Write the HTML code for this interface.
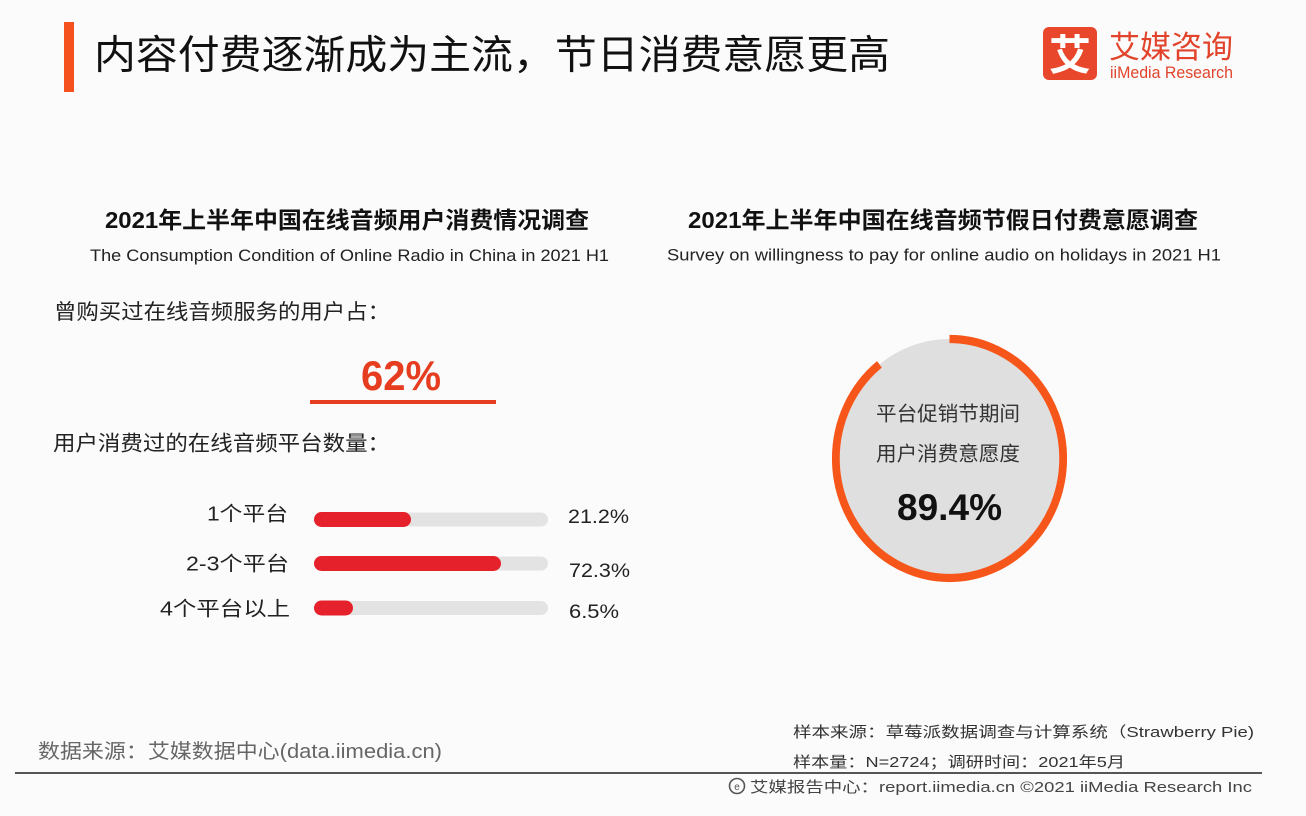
<!DOCTYPE html>
<html><head><meta charset="utf-8"><style>
html,body{margin:0;padding:0;background:#fbfbfb;}
svg{display:block;}
text{font-family:"Liberation Sans","Noto Sans CJK SC",sans-serif;}
.cjk{font-family:"Liberation Sans","Noto Sans CJK SC",sans-serif;}
</style></head><body>
<svg width="1306" height="816" viewBox="0 0 1306 816" xmlns="http://www.w3.org/2000/svg">
<rect x="0" y="0" width="1306" height="816" fill="#fbfbfb"/>
<!-- Header -->
<rect x="64" y="22" width="10" height="70" fill="#f4511e"/>
<text x="94" y="68.5" font-size="40" fill="#111" textLength="796" lengthAdjust="spacingAndGlyphs">内容付费逐渐成为主流，节日消费意愿更高</text>
<!-- Logo -->
<rect x="1043" y="27" width="54" height="53" rx="6" fill="#e8472b"/>
<text x="1070" y="70" font-size="42" font-weight="bold" fill="#fff" text-anchor="middle">艾</text>
<text x="1109" y="58" font-size="31" fill="#e2432b" textLength="124" lengthAdjust="spacingAndGlyphs">艾媒咨询</text>
<text x="1110" y="78" font-size="17" fill="#e2432b" textLength="123" lengthAdjust="spacingAndGlyphs">iiMedia Research</text>

<!-- Left section -->
<text x="105" y="228" font-size="23" font-weight="bold" fill="#111" textLength="484" lengthAdjust="spacingAndGlyphs">2021年上半年中国在线音频用户消费情况调查</text>
<text x="90" y="261" font-size="17" fill="#222" textLength="519" lengthAdjust="spacingAndGlyphs">The Consumption Condition of Online Radio in China in 2021 H1</text>
<text x="54" y="319" font-size="21" fill="#222" textLength="336" lengthAdjust="spacingAndGlyphs">曾购买过在线音频服务的用户占：</text>
<text x="361" y="390" font-size="42" font-weight="bold" fill="#e63d20" textLength="80" lengthAdjust="spacingAndGlyphs">62%</text>
<rect x="310" y="400" width="186" height="4" fill="#e63d20"/>
<text x="53" y="450.5" font-size="21" fill="#222" textLength="337" lengthAdjust="spacingAndGlyphs">用户消费过的在线音频平台数量：</text>

<!-- Bars -->
<text x="207" y="520.5" font-size="20" fill="#222" textLength="81" lengthAdjust="spacingAndGlyphs">1个平台</text>
<text x="186" y="570.5" font-size="20" fill="#222" textLength="103" lengthAdjust="spacingAndGlyphs">2-3个平台</text>
<text x="160" y="615.5" font-size="20" fill="#222" textLength="130" lengthAdjust="spacingAndGlyphs">4个平台以上</text>

<rect x="314" y="512.5" width="234" height="14" rx="7" fill="#e3e3e3"/>
<rect x="314" y="512" width="97" height="15" rx="7.5" fill="#e5212b"/>
<rect x="314" y="556.5" width="234" height="14" rx="7" fill="#e3e3e3"/>
<rect x="314" y="556" width="187" height="15" rx="7.5" fill="#e5212b"/>
<rect x="314" y="601" width="234" height="14" rx="7" fill="#e3e3e3"/>
<rect x="314" y="600.5" width="39" height="15" rx="7.5" fill="#e5212b"/>

<text x="568" y="523" font-size="19" fill="#222" textLength="61" lengthAdjust="spacingAndGlyphs">21.2%</text>
<text x="569" y="577" font-size="19" fill="#222" textLength="61" lengthAdjust="spacingAndGlyphs">72.3%</text>
<text x="569" y="618" font-size="19" fill="#222" textLength="50" lengthAdjust="spacingAndGlyphs">6.5%</text>

<!-- Right section -->
<text x="688" y="228" font-size="23" font-weight="bold" fill="#111" textLength="510" lengthAdjust="spacingAndGlyphs">2021年上半年中国在线音频节假日付费意愿调查</text>
<text x="667" y="260.5" font-size="17" fill="#222" textLength="554" lengthAdjust="spacingAndGlyphs">Survey on willingness to pay for online audio on holidays in 2021 H1</text>

<g transform="translate(949.5,458.5) scale(0.951,1)">
  <circle cx="0" cy="0" r="119.5" fill="#dfdfe0"/>
  <circle cx="0" cy="0" r="119.5" fill="none" stroke="#f7561a" stroke-width="8.2" stroke-dasharray="671.2 79.6" transform="rotate(-90)"/>
</g>
<text x="876" y="420.6" font-size="20" fill="#333" textLength="144" lengthAdjust="spacingAndGlyphs">平台促销节期间</text>
<text x="876" y="460.6" font-size="20" fill="#333" textLength="144" lengthAdjust="spacingAndGlyphs">用户消费意愿度</text>
<text x="897" y="520" font-size="37" font-weight="bold" fill="#111" textLength="105" lengthAdjust="spacingAndGlyphs">89.4%</text>

<!-- Footer -->
<text x="793" y="737" font-size="15" fill="#333" textLength="461" lengthAdjust="spacingAndGlyphs">样本来源：草莓派数据调查与计算系统（Strawberry Pie)</text>
<text x="793" y="767" font-size="15" fill="#333" textLength="332" lengthAdjust="spacingAndGlyphs">样本量：N=2724；调研时间：2021年5月</text>
<text x="38" y="758" font-size="20" fill="#666" textLength="404" lengthAdjust="spacingAndGlyphs">数据来源：艾媒数据中心(data.iimedia.cn)</text>
<rect x="15" y="772" width="1247" height="2" fill="#555"/>
<circle cx="737" cy="786" r="7.5" fill="none" stroke="#555" stroke-width="1.6"/>
<text x="737" y="790" font-size="10" fill="#555" text-anchor="middle">e</text>
<text x="750" y="792" font-size="15" fill="#444" textLength="502" lengthAdjust="spacingAndGlyphs">艾媒报告中心：report.iimedia.cn  ©2021  iiMedia Research  Inc</text>
</svg>
</body></html>
